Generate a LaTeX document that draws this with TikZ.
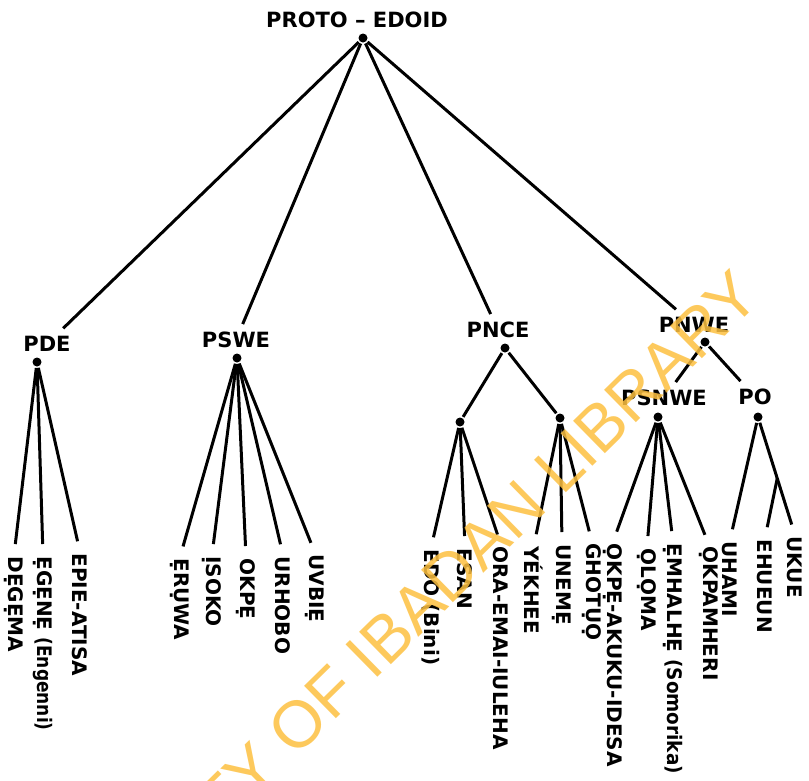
\documentclass[tikz,border=0pt]{standalone}
\usepackage{fontspec}
\usepackage{graphicx}
\usetikzlibrary{calc}
\newfontfamily\labfont{DejaVu Sans Bold}
\newfontfamily\leaffont{DejaVu Sans Bold}
\newfontfamily\wmfont{Liberation Sans}
\definecolor{wm}{RGB}{253,192,64}
\newcommand{\narrow}[2]{\scalebox{#1}[1]{#2}}
\begin{document}
\begin{tikzpicture}[x=1pt,y=-1pt,line width=3pt,
  lab/.style={font=\labfont\fontsize{21}{21}\selectfont, inner sep=3pt, outer sep=5pt},
  leaf/.style={font=\leaffont\fontsize{20}{20}\selectfont, rotate=-90, anchor=west, inner sep=0pt},
  dotn/.style={circle, fill=black, inner sep=0pt, minimum size=9pt},
  edge/.style={line width=3pt},
  leafedge/.style={line width=3pt, shorten >=11pt},
  wmark/.style={font=\wmfont\fontsize{66}{66}\selectfont, text=wm, opacity=0.85, rotate=44.5, anchor=east, inner sep=0pt}]
\useasboundingbox[fill=white] (0,0) rectangle (809,780);

% internal nodes
\node[lab] (proto) at (357,20) {PROTO – EDOID};
\node[dotn] (root) at (363,38) {};
\node[lab] (pde) at (47,344) {PDE};
\node[dotn] (pdeD) at (37,362) {};
\node[lab] (pswe) at (236,340) {PSWE};
\node[dotn] (psweD) at (237,358) {};
\node[lab] (pnce) at (498,330) {PNCE};
\node[dotn] (pnceD) at (505,348) {};
\node[dotn] (pnceL) at (460,422) {};
\node[dotn] (pnceR) at (560,418) {};
\node[lab] (pnwe) at (694,325) {PNWE};
\node[dotn] (pnweD) at (705,342) {};
\node[lab] (psnwe) at (664,398) {PSNWE};
\node[dotn] (psnweD) at (658,417) {};
\node[lab] (po) at (755,397) {PO};
\node[dotn] (poD) at (758,417) {};

% leaves
\node[leaf] (degema) at (14,555) {DẸGẸMA};
\node[leaf] (egene) at (43,555) {ẸGẸNẸ \narrow{0.85}{(Engenni)}};
\node[leaf] (epie) at (80,552) {EPIE-ATISA};
\node[leaf] (eruwa) at (180,557) {ẸRỤWA};
\node[leaf] (isoko) at (212,555) {ỊSOKO};
\node[leaf] (okpe) at (246,557) {OKPẸ};
\node[leaf] (urhobo) at (283,555) {URHOBO};
\node[leaf] (uvbie) at (315,553) {UVBIẸ};
\node[leaf] (edo) at (431,548) {EDO (Bini)};
\node[leaf] (esan) at (465,547) {ESAN};
\node[leaf] (ora) at (501,545) {ORA-EMAI-IULEHA};
\node[leaf] (yekhee) at (534,545) {YÉKHEE};
\node[leaf] (uneme) at (562,543) {UNEMẸ};
\node[leaf] (ghotuo) at (592,542) {GHOTỤỌ};
\node[leaf] (okpeak) at (613,542) {ỌKPẸ-AKUKU-IDESA};
\node[leaf] (oloma) at (647,547) {ỌLỌMA};
\node[leaf] (emhalhe) at (673,542) {ẸMHALHẸ \narrow{0.92}{(Somorika)}};
\node[leaf] (okpamheri) at (709,545) {ỌKPAMHERI};
\node[leaf] (uhami) at (730,540) {UHAMI};
\node[leaf] (ehueun) at (765,538) {EHUEUN};
\node[leaf] (ukue) at (795,535) {UKUE};

% top connectors
\draw[edge] (root) -- (pde);
\draw[edge] (root) -- (pswe);
\draw[edge] (root) -- (pnce);
\draw[edge] (root) -- (pnwe);
\draw[edge] (pnweD) -- (psnwe);
\draw[edge] (pnweD) -- (po);
\draw[edge] (pnceD) -- (pnceL);
\draw[edge] (pnceD) -- (pnceR);

% leaf connectors
\foreach \l in {degema,egene,epie} \draw[leafedge] (pdeD) -- (\l.west);
\foreach \l in {eruwa,isoko,okpe,urhobo,uvbie} \draw[leafedge] (psweD) -- (\l.west);
\foreach \l in {edo,esan,ora} \draw[leafedge] (pnceL) -- (\l.west);
\foreach \l in {yekhee,uneme,ghotuo} \draw[leafedge] (pnceR) -- (\l.west);
\foreach \l in {okpeak,oloma,emhalhe,okpamheri} \draw[leafedge] (psnweD) -- (\l.west);
\draw[leafedge] (poD) -- (uhami.west);
\draw[leafedge] (poD) -- (ukue.west);
\coordinate (pob) at ($(poD)!0.52!(ukue.west)$);
\draw[leafedge] (pob) -- (ehueun.west);

% watermark
\begin{scope}
\clip (0,0) rectangle (809,780);
\node[wmark] (wm) at (748,282) {UNIVERSITY OF IBADAN LIBRARY};
\end{scope}
\end{tikzpicture}
\end{document}
